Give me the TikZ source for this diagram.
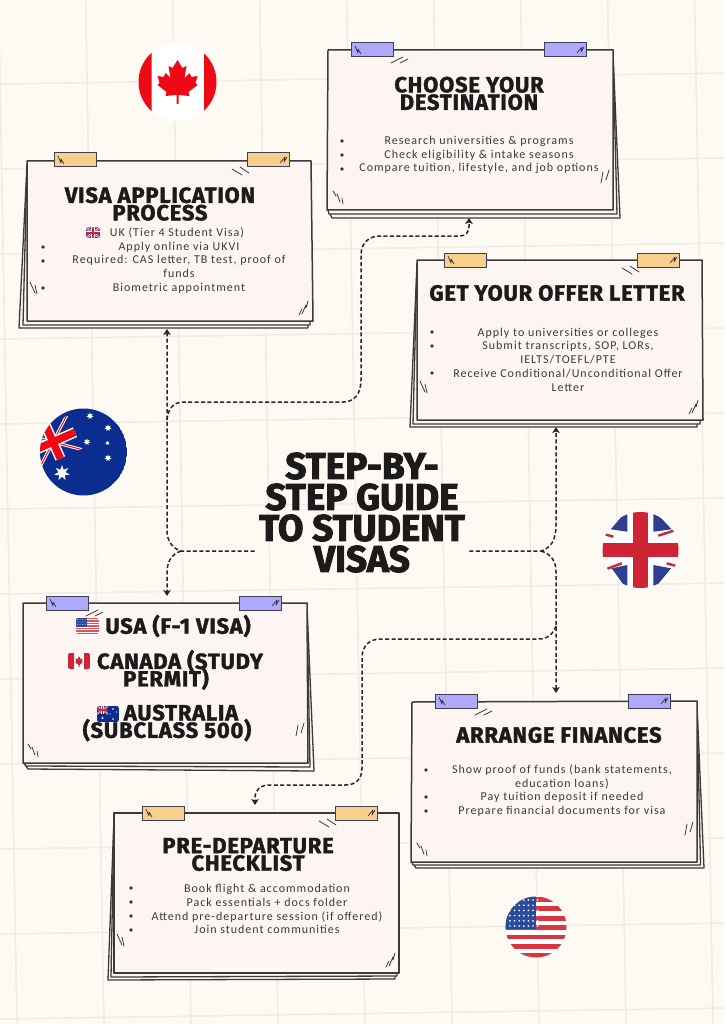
\documentclass[tikz,border=0pt]{standalone}
\usepackage{fontspec}
\usetikzlibrary{arrows.meta,shapes.geometric}
\newfontfamily\headf[FakeBold=1.7,LetterSpace=3.5]{Fira Sans Bold}
\newfontfamily\mainf[FakeBold=2.6]{Fira Sans Bold}
\newfontfamily\bodyf[LetterSpace=8.3]{Carlito}
\definecolor{paper}{HTML}{FDF9F3}
\definecolor{gridc}{HTML}{EFECE6}
\definecolor{cardc}{HTML}{FDF5F1}
\definecolor{inkc}{HTML}{3B3B3B}
\definecolor{headc}{HTML}{1C1A1A}
\definecolor{bodyc}{HTML}{3A3A3A}
\definecolor{tapeO}{HTML}{F9CF8E}
\definecolor{tapeP}{HTML}{B0A8FB}
\definecolor{tapeL}{HTML}{3F3F55}
\definecolor{flagR}{HTML}{EE0A14}
\definecolor{ukR}{HTML}{CF2436}
\definecolor{ukB}{HTML}{2F3E8E}
\definecolor{auB}{HTML}{0A2D8F}
\definecolor{usR}{HTML}{D9353F}
\definecolor{usB}{HTML}{2B4A9B}
\tikzset{
  sheet/.style={draw=inkc,line width=1.3pt,fill=cardc,line join=round},
  front/.style={draw=inkc,line width=1.5pt,fill=cardc,line join=round},
  frame/.style={inner sep=0pt,outer sep=0pt,anchor=north west},
  tapeA/.style={draw=tapeL,line width=1pt,fill=tapeO},
  tapeB/.style={draw=tapeL,line width=1pt,fill=tapeP},
  hatch/.style={draw=inkc,line width=.8pt,line cap=round},
  scrib/.style={draw=inkc!85!black,line width=.7pt,line join=round},
  hd/.style={inner sep=0pt,align=center,text=headc,font={\lineskiplimit=-50pt\headf\fontsize{22}{17.5}\selectfont}},
  bodytext/.style={inner sep=0pt,align=center,text=bodyc,font={\bodyf\fontsize{12}{13.8}\selectfont}},
  conn/.style={draw=black!85,line width=1.5pt,dash pattern=on 4pt off 2.4pt,
     -{Stealth[length=6pt,width=7.5pt,inset=1.5pt]}},
  gridline/.style={draw=gridc,line width=1.6pt},
  bul/.style={fill=black!80}
}
\newcommand{\orangemarks}[2]{%
 \begin{scope}[shift={(#1,#2)}]
 \draw[hatch] (205,8)--(215,14) (213,6)--(222,12);
 \draw[hatch] (3,121)--(8,132) (8,124)--(10,133);
 \draw[hatch] (272,154)--(275,148) (275,153)--(279,144) (279,147)--(281,140);
 \end{scope}}
\newcommand{\purplemarks}[2]{%
 \begin{scope}[shift={(#1,#2)}]
 \draw[hatch] (63,13)--(75,7) (72,13)--(80,9);
 \draw[hatch] (5,141)--(8,146) (9,144)--(12,152) (14,148)--(15,154);
 \draw[hatch] (273,133)--(275,122) (278,130)--(281,120);
 \end{scope}}
\newcommand{\tapes}[4]{%
 \draw[#1] (#2,#4) rectangle ++(42,14);
 \draw[#1] (#3,#4) rectangle ++(42,14);
 \draw[scrib] (#2+4,#4+3)--(#2+7,#4+10)--(#2+7,#4+6)--(#2+10,#4+11);
 \draw[scrib] (#3+33,#4+10)--(#3+38,#4+4)--(#3+37,#4+9)--(#3+40,#4+4);}
\newcommand{\smallUK}[2]{%
 \begin{scope}[shift={(#1,#2)}]
 \begin{scope}
 \clip[rounded corners=1.5pt] (0,0) rectangle (14,10.5);
 \fill[ukB] (0,0) rectangle (14,10.5);
 \draw[white,line width=2pt] (0,0)--(14,10.5) (14,0)--(0,10.5);
 \draw[ukR,line width=.7pt] (0,0)--(14,10.5) (14,0)--(0,10.5);
 \draw[white,line width=3.4pt] (7,0)--(7,10.5) (0,5.25)--(14,5.25);
 \draw[ukR,line width=1.9pt] (7,0)--(7,10.5) (0,5.25)--(14,5.25);
 \end{scope}
 \end{scope}}
\newcommand{\smallUS}[2]{%
 \begin{scope}[shift={(#1,#2)}]
 \begin{scope}
 \clip[rounded corners=2pt] (0,0) rectangle (23,16);
 \fill[white] (0,0) rectangle (23,16);
 \foreach \k in {0,2,...,12}{\fill[usR!85!white] (0,\k*1.23) rectangle (23,\k*1.23+1.23);}
 \fill[usB] (0,0) rectangle (11,8.6);
 \foreach \a in {1.5,4,...,10}{\foreach \b in {1.5,4,6.5}{\fill[white] (\a,\b) circle (.45);}}
 \end{scope}
 \end{scope}}
\newcommand{\smallCA}[2]{%
 \begin{scope}[shift={(#1,#2)}]
 \begin{scope}
 \clip[rounded corners=2pt] (0,0) rectangle (22,16);
 \fill[white] (0,0) rectangle (22,16);
 \fill[ukR] (0,0) rectangle (6,16) (16,0) rectangle (22,16);
 \fill[ukR] (11,3)--(12.5,6)--(14.5,5.5)--(14,8.5)--(15,9)--(11.5,12)--(11.5,14)--(10.5,14)--(10.5,12)--(7,9)--(8,8.5)--(7.5,5.5)--(9.5,6)--cycle;
 \end{scope}
 \end{scope}}
\newcommand{\smallAU}[2]{%
 \begin{scope}[shift={(#1,#2)}]
 \begin{scope}
 \clip[rounded corners=2pt] (0,0) rectangle (22,16);
 \fill[auB] (0,0) rectangle (22,16);
 \begin{scope}
 \clip (0,0) rectangle (11,8);
 \draw[white,line width=1.6pt] (0,0)--(11,8) (11,0)--(0,8);
 \draw[ukR,line width=.6pt] (0,0)--(11,8) (11,0)--(0,8);
 \draw[white,line width=2.6pt] (5.5,0)--(5.5,8) (0,4)--(11,4);
 \draw[ukR,line width=1.5pt] (5.5,0)--(5.5,8) (0,4)--(11,4);
 \end{scope}
 \foreach \a/\b/\r in {16/3/.8,16/13/.8,13/8/.7,19.5/6/.7,5.5/12/1.2}{\fill[white] (\a,\b) circle (\r);}
 \end{scope}
 \end{scope}}
\begin{document}
\begin{tikzpicture}[x=1pt,y=-1pt]
\useasboundingbox (0,0) rectangle (724,1024);
\fill[paper] (0,0) rectangle (724,1024);
% grid
\foreach \k in {0,...,8}{\draw[gridline] ({-1.4+87*\k},0)--({-1.4+87*\k+18.4},1024);}
\foreach \k in {0,...,11}{\draw[gridline] (0,{84+85*\k})--(724,{84+85*\k-10.9});}

% Canada roundel
\begin{scope}
\fill[white] (177.5,82) circle (39);
\clip (177.5,82) circle (39);
\fill[flagR] (130,40) rectangle (151.5,125) (204,40) rectangle (225,125);
\fill[flagR] (177.5,60)--(182.5,68)--(186.5,66)--(184.5,78)--(189.5,73)--(191.5,77)--(197.5,76)--(195.5,83)--(197.5,85)--(188.5,92)--(189.5,96)--(178.5,95)--(178.5,104)--(176.5,104)--(176.5,95)--(165.5,96)--(166.5,92)--(157.5,85)--(159.5,83)--(157.5,76)--(163.5,77)--(165.5,73)--(170.5,78)--(168.5,66)--(172.5,68)--cycle;
\end{scope}

% Australia roundel
\begin{scope}
\clip (83.5,452) circle (43.5);
\fill[auB] (83.5,452) circle (43.5);
\begin{scope}[shift={(53,442)},rotate=24]
\clip (-40,-18) rectangle (24,18);
\draw[white,line width=3pt] (-40,-32)--(40,32) (40,-32)--(-40,32);
\draw[flagR,line width=1pt] (-40,-32)--(40,32) (40,-32)--(-40,32);
\draw[white,line width=10.5pt] (0,-30)--(0,30) (-40,0)--(40,0);
\draw[flagR,line width=7.5pt] (0,-30)--(0,30) (-40,0)--(40,0);
\end{scope}
\end{scope}
\foreach \n/\sx/\sy/\rr in {a/62/473/8,b/90/416/3.6,c/108/428/3.6,d/87/442/3.6,e/107.5/443/2.2,f/108/458/3.6}{
  \node[star,star points=7,star point ratio=2.2,fill=white,inner sep=0pt,minimum size=2*\rr pt] (au\n) at (\sx,\sy) {};}

% UK roundel
\begin{scope}
\fill[white] (640.5,550) circle (38);
\clip (640.5,550) circle (38);
\fill[ukB] (610.7,529.3)--(627.3,510)--(627.3,531.7)--cycle;
\fill[ukB] (653.3,531.7)--(653.3,510)--(671.7,529.3)--cycle;
\fill[ukB] (611.7,568.3)--(627.3,565)--(627.3,590)--cycle;
\fill[ukB] (653.3,565)--(653.3,590)--(671,568.3)--cycle;
\draw[ukR,line width=2.4pt] (603,533.7)--(613.3,536.7) (658.3,535.7)--(675,530.2) (605,569.6)--(621.7,563.3) (666.7,563.3)--(677,566.2);
\draw[ukR,line width=15pt] (640.5,510)--(640.5,590);
\draw[ukR,line width=14pt] (600,550)--(680,550);
\end{scope}

% USA roundel
\begin{scope}
\clip (536,927) circle (30.5);
\fill[white] (536,927) circle (30.5);
\foreach \k in {0,...,6}{\fill[usR] (500,{897+\k*9.4}) rectangle (570,{897+\k*9.4+4.7});}
\fill[usB] (500,895) rectangle (535.5,928.5);
\foreach \a in {0,...,6}{\foreach \b in {0,...,5}{\fill[white] ({510+\a*4.6},{900+\b*5.2}) circle (.95);}}
\end{scope}

% card frames (all sheets included)
\node[frame,minimum width=294pt,minimum height=167pt] (visa) at (19,161) {};
\node[frame,minimum width=293pt,minimum height=168pt] (dest) at (327,50) {};
\node[frame,minimum width=293pt,minimum height=167pt] (offer) at (410,260) {};
\node[frame,minimum width=291pt,minimum height=168pt] (usa) at (23,603) {};
\node[frame,minimum width=293pt,minimum height=167pt] (fin) at (411,701) {};
\node[frame,minimum width=291pt,minimum height=167pt] (check) at (108,813) {};
\coordinate (colL) at (167,0);
\coordinate (colC) at (469,0);
\coordinate (colR) at (556,0);
\coordinate (colD) at (255,0);
\coordinate (jL) at (181,551);
\coordinate (jR) at (541,551);
\coordinate (bL) at (167,420);
\coordinate (bR) at (556,626);

% main title
\node[inner xsep=4.5pt,inner ysep=0pt,align=center,text=headc,font={\lineskiplimit=-50pt\mainf\fontsize{37}{31}\selectfont}] (title) at (362,512.5) {STEP-BY-\\STEP GUIDE\\TO STUDENT\\VISAS};
\coordinate (tLy) at (0,551);

% connectors
\draw[conn] (title.west |- tLy) -- (jL) .. controls (172,548) and (167,541) .. (167,530) -- ([yshift=-1pt]visa.south -| colL);
\draw[conn,shorten >=7pt] (jL) .. controls (172,554) and (167,561) .. (167,573) -- (usa.north -| colL);
\draw[conn] (bL) .. controls (168,409) and (173,402) .. (184,402) -- (343,402) .. controls (355,402) and (361,393) .. (361,380) -- (361,255) .. controls (361,243) and (369,236) .. (380,236) -- (460,236) .. controls (466,236) and (469,232) .. (469,226) -- (dest.south -| colC);
\draw[conn] (title.east |- tLy) -- (jR) .. controls (551,548) and (556,540) .. (556,525) -- (offer.south -| colR);
\draw[conn,shorten >=8pt] (jR) .. controls (551,554) and (556,561) .. (556,572) -- (fin.north -| colR);
\draw[conn,shorten >=8pt] (bR) .. controls (553,634) and (548,639) .. (538,639) -- (381,639) .. controls (369,639) and (362,646) .. (362,658) -- (362,768) .. controls (362,779) and (356,785) .. (345,785) -- (270,785) .. controls (260,785) and (255,790) .. (255,798) -- (check.north -| colD);

% VISA card
\draw[sheet] (27,165)--(19,328)--(308,328)--(308,321)--cycle;
\draw[sheet] (27,165)--(23,325)--(310,325)--(310,321)--cycle;
\draw[front] (27,161)--(311,161)--(313,321)--(27,321)--cycle;
\tapes{tapeA}{54}{247}{153}
\orangemarks{27}{161}
\node[hd] (visaT) at (160,204) {VISA APPLICATION\\PROCESS};
\smallUK{86}{227.5}
\node[bodytext] (visaU) at (177,233) {UK (Tier 4 Student Visa)};
\node[bodytext] (visaB) at (179,267.5) {Apply online via UKVI\\Required: CAS letter, TB test, proof of\\funds\\Biometric appointment};
\foreach \y in {247,261,288}{\fill[bul] (43,\y) circle (1.9);}

% DESTINATION card
\draw[sheet] (613,53)--(620,218)--(332,218)--(328,210)--cycle;
\draw[sheet] (613,53)--(617,214)--(329,214)--(328,210)--cycle;
\draw[front] (328,50)--(613,50)--(613,210)--(327,210)--cycle;
\tapes{tapeB}{351}{544}{43}
\purplemarks{328}{50}
\node[hd] (destT) at (469,93.5) {CHOOSE YOUR\\DESTINATION};
\node[bodytext] (destB) at (479,155) {Research universities \& programs\\Check eligibility \& intake seasons\\Compare tuition, lifestyle, and job options};
\foreach \y in {141,155,169}{\fill[bul] (342,\y) circle (1.9);}

% OFFER card
\draw[sheet] (417,264)--(410,427)--(697,427)--(697,420)--cycle;
\draw[sheet] (417,264)--(413,424)--(700,424)--(700,420)--cycle;
\draw[front] (417,260)--(702,260)--(703,420)--(417,420)--cycle;
\tapes{tapeA}{444}{637}{253}
\orangemarks{417}{260}
\node[hd] (offerT) at (557,293) {GET YOUR OFFER LETTER};
\node[bodytext] (offerB) at (568,359.5) {Apply to universities or colleges\\Submit transcripts, SOP, LORs,\\IELTS/TOEFL/PTE\\Receive Conditional/Unconditional Offer\\Letter};
\foreach \y in {332,346,373}{\fill[bul] (432,\y) circle (1.9);}

% USA card
\draw[sheet] (307,606)--(314,771)--(28,769)--(24,763)--cycle;
\draw[sheet] (307,606)--(310,767)--(26,766)--(24,763)--cycle;
\draw[front] (23,603)--(307,603)--(308,763)--(23,763)--cycle;
\tapes{tapeB}{46}{239}{596}
\purplemarks{23}{603}
\smallUS{76}{618}
\node[hd] (usaA) at (178,626) {USA (F-1 VISA)};
\smallCA{68}{653}
\node[hd] (usaB) at (166,670) {\hspace*{28pt}CANADA (STUDY\\PERMIT)};
\smallAU{97}{706}
\node[hd] (usaC) at (167,723) {\hspace*{28pt}AUSTRALIA\\(SUBCLASS 500)};

% FINANCES card
\draw[sheet] (697,705)--(704,868)--(416,868)--(412,862)--cycle;
\draw[sheet] (697,705)--(700.5,865)--(413,865)--(412,862)--cycle;
\draw[front] (412,702)--(697,701)--(697,862)--(411,862)--cycle;
\tapes{tapeB}{435}{628}{694}
\purplemarks{412}{702}
\node[hd] (finT) at (559,735) {ARRANGE FINANCES};
\node[bodytext] (finB) at (562,790.5) {Show proof of funds (bank statements,\\education loans)\\Pay tuition deposit if needed\\Prepare financial documents for visa};
\foreach \y in {770,797,811}{\fill[bul] (426,\y) circle (1.9);}

% CHECKLIST card
\draw[sheet] (114,817)--(108,980)--(395,979)--(395,973)--cycle;
\draw[sheet] (114,817)--(111,977)--(397,976)--(397,973)--cycle;
\draw[front] (114,813)--(399,813)--(399,973)--(114,973)--cycle;
\tapes{tapeA}{142}{335}{806}
\orangemarks{114}{813}
\node[hd] (checkT) at (248,854.5) {PRE-DEPARTURE\\CHECKLIST};
\node[bodytext] (checkB) at (267,909) {Book flight \& accommodation\\Pack essentials + docs folder\\Attend pre-departure session (if offered)\\Join student communities};
\foreach \y in {888,902,916,930}{\fill[bul] (131,\y) circle (1.9);}
\end{tikzpicture}
\end{document}
